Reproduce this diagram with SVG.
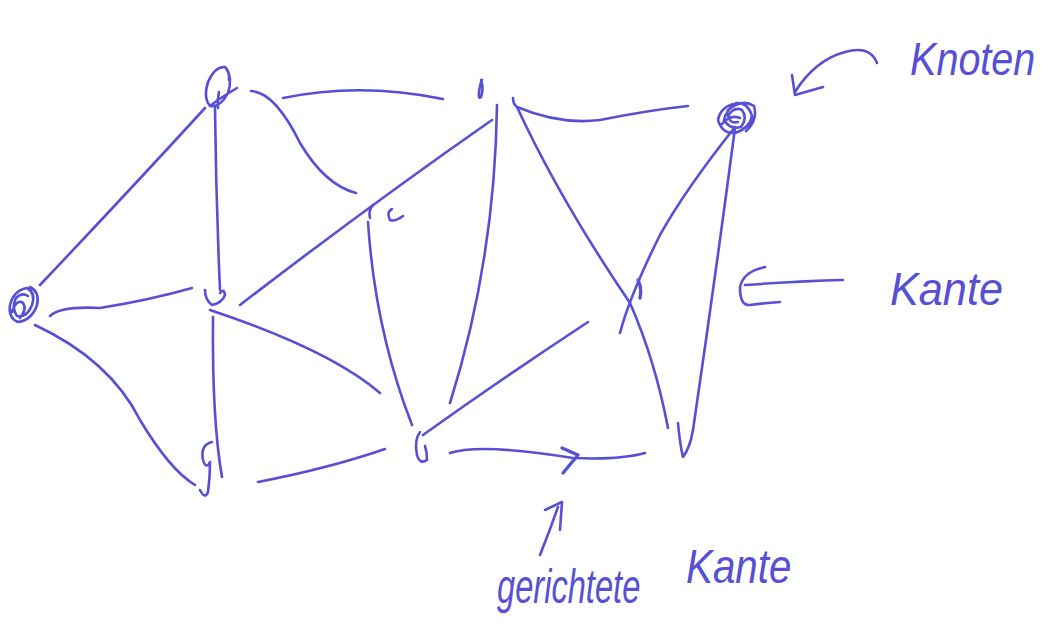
<svg xmlns="http://www.w3.org/2000/svg" width="1055" height="629" viewBox="0 0 1055 629">
<style>
.ink{fill:none;stroke:#5750d4;stroke-width:2.6;stroke-linecap:round;stroke-linejoin:round}
.bold{stroke-width:3.4}
.lbl{font-family:"Liberation Sans",Arial,sans-serif;font-style:italic;fill:#5750d4}
</style>
<rect width="1055" height="629" fill="#ffffff"/>
<g id="connectors" class="ink">
  <path d="M40 285 Q130 190 205 108"/>
  <path d="M215 108 Q216 200 220 290"/>
  <path d="M50 316 Q60 306 100 308 Q150 300 192 288"/>
  <path d="M251 91 Q275 92 300 143 Q325 185 356 193"/>
  <path d="M283 98 Q360 82 443 99"/>
  <path d="M240 305 Q370 205 492 120"/>
  <path d="M368 222 Q375 330 412 425"/>
  <path d="M497 105 Q495 260 450 403"/>
  <path d="M210 310 Q330 350 380 393"/>
  <path d="M213 317 Q212 420 222 477"/>
  <path d="M35 325 Q110 360 140 420 Q170 470 195 485"/>
  <path d="M258 482 Q330 468 385 449"/>
  <path d="M423 435 Q500 380 588 322"/>
  <path d="M450 453 Q480 443 573 458 Q620 460 645 453"/>
  <path class="bold" d="M562 448 L578 455 L563 473"/>
  <path d="M513 98 Q513 104 517 107 Q560 125 600 120 Q650 110 688 106"/>
  <path d="M517 107 Q560 200 630 303 Q655 360 668 428"/>
  <path d="M735 127 Q685 190 660 235 Q630 295 620 333"/>
  <path d="M735 128 Q715 280 693 430"/>
</g>
<g id="n-a" class="ink"><path d="M30 287 Q40 292 37 305 Q32 320 18 322 Q8 318 10 305 Q14 290 27 288 Q36 293 32 305 Q27 318 17 316 Q11 308 16 298 Q22 292 28 296 M12 312 Q16 300 22 302 Q28 308 20 318"/></g>
<g id="n-b" class="ink"><path d="M226 68 Q233 78 228 93 Q220 108 210 106 Q203 98 208 82 Q215 66 225 67 Q230 72 229 80 M210 106 Q220 98 237 88 M218 108 Q217 100 219 92"/></g>
<g id="n-c" class="ink"><path d="M205 290 Q205 300 212 305 Q222 303 225 295 Q224 288 220 293"/></g>
<g id="n-d" class="ink"><path d="M212 442 Q200 445 203 460 Q206 470 210 462 Q210 478 208 492 Q205 500 200 490"/></g>
<g id="n-e" class="ink"><path d="M481 80 Q484 88 481 97 Q478 100 479 92 Q480 84 482 80"/></g>
<g id="n-f" class="ink"><path d="M392 209 Q386 212 390 220 Q395 222 403 216 M373 205 Q368 210 370 218"/></g>
<g id="n-g" class="ink"><path d="M420 432 Q414 440 417 455 Q420 465 427 460 Q427 452 425 446"/></g>
<g id="n-h" class="ink"><path d="M733 104 Q720 108 718 120 Q722 134 735 133 Q750 128 752 116 Q748 102 736 103 Q726 110 724 120 Q730 130 741 127 Q748 118 742 110 Q734 106 728 116 Q730 124 738 122 M728 110 Q742 98 754 106 Q758 120 746 131 M722 124 Q730 114 740 118"/></g>
<g id="n-i" class="ink bold"><path d="M638 280 Q642 288 640 298"/></g>
<g id="n-j" class="ink"><path d="M678 423 Q680 445 683 457 Q690 448 693 430"/></g>
<g id="label-knoten">
  <path class="ink" d="M877 63 Q870 45 845 52 Q815 60 795 92"/>
  <path class="ink" d="M792 75 L795 95 L823 87"/>
  <text class="lbl" font-size="46" transform="translate(910,75) scale(0.86,1)">Knoten</text>
</g>
<g id="label-kante">
  <path class="ink" d="M843 280 Q800 281 745 285"/>
  <path class="ink" d="M765 267 Q742 272 740 288 Q740 306 750 305 Q765 303 780 302"/>
  <text class="lbl" font-size="46" transform="translate(890,305) scale(0.94,1)">Kante</text>
</g>
<g id="label-gerichtete">
  <path class="ink" d="M540 555 Q550 530 558 507"/>
  <path class="ink" d="M545 510 L562 502 L560 530"/>
  <text class="lbl" font-size="48" transform="translate(497,603) scale(0.68,1)">gerichtete</text>
  <text class="lbl" font-size="48" transform="translate(686,583) scale(0.84,1)">Kante</text>
</g>
</svg>
